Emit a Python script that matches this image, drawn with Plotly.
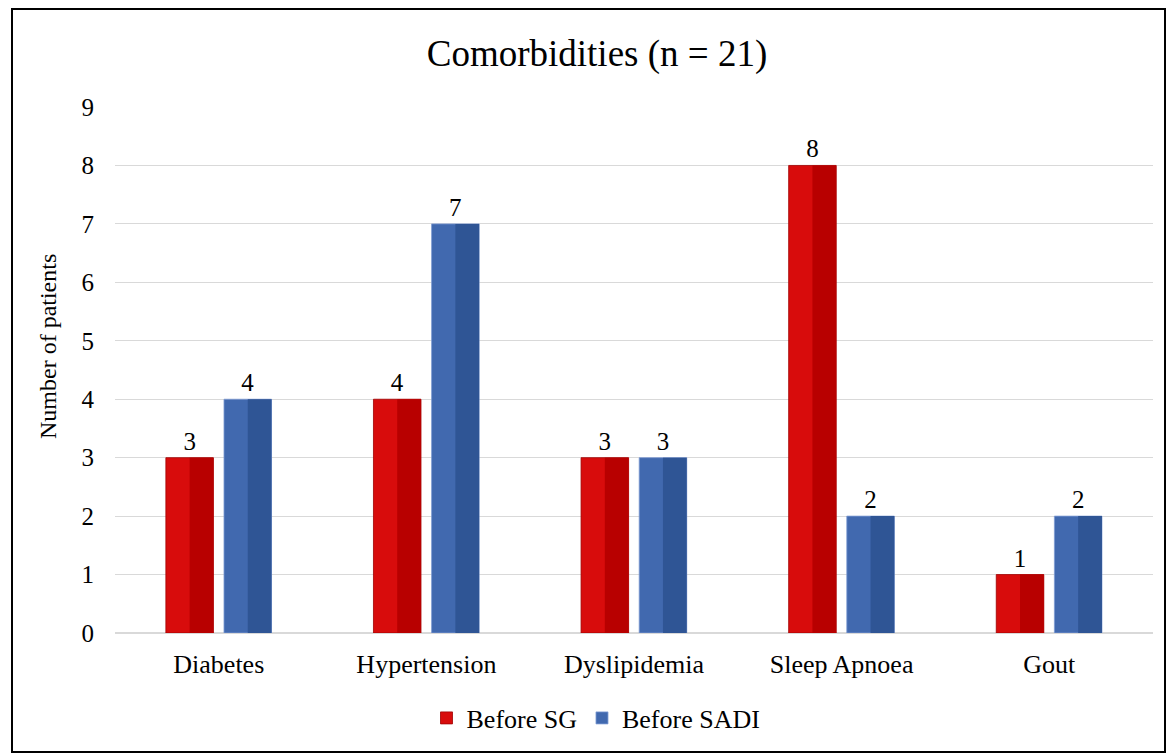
import plotly.graph_objects as go

categories = ["Diabetes", "Hypertension", "Dyslipidemia", "Sleep Apnoea", "Gout"]
before_sg = [3, 4, 3, 8, 1]
before_sadi = [4, 7, 3, 2, 2]
series_names = ["Before SG", "Before SADI"]
y_ticks = [0, 1, 2, 3, 4, 5, 6, 7, 8, 9]

FONT = "Times New Roman, Liberation Serif, DejaVu Serif, serif"

W, H = 1167, 755
L, R, T, B = 115, 14, 107, 122
pw = W - L - R
ph = H - T - B

def px_x(px):
    return (px - L) / pw

def px_y(py):
    return (H - B - py) / ph

fig = go.Figure()

bw = 0.229
red_off, blue_off = -0.255, 0.025
red_main, red_dark = "#D80C0C", "#B80000"
blue_main, blue_dark = "#4169AF", "#2F5595"

fig.add_trace(go.Bar(
    x=categories, y=before_sg, name=series_names[0],
    offset=red_off, width=bw,
    marker=dict(color=red_main, line=dict(color="#A00000", width=0.8)),
    text=[str(v) for v in before_sg], textposition="outside",
    textfont=dict(family=FONT, size=25, color="#000000"),
    cliponaxis=False,
))
fig.add_trace(go.Bar(
    x=categories, y=before_sg, name=series_names[0] + " shade",
    offset=red_off + bw / 2, width=bw / 2,
    marker=dict(color=red_dark, line=dict(width=0)),
    showlegend=False, hoverinfo="skip",
))
fig.add_trace(go.Bar(
    x=categories, y=before_sadi, name=series_names[1],
    offset=blue_off, width=bw,
    marker=dict(color=blue_main, line=dict(color="#7D9BD3", width=0.8)),
    text=[str(v) for v in before_sadi], textposition="outside",
    textfont=dict(family=FONT, size=25, color="#000000"),
    cliponaxis=False,
))
fig.add_trace(go.Bar(
    x=categories, y=before_sadi, name=series_names[1] + " shade",
    offset=blue_off + bw / 2, width=bw / 2,
    marker=dict(color=blue_dark, line=dict(width=0)),
    showlegend=False, hoverinfo="skip",
))

fig.update_layout(
    width=W, height=H,
    margin=dict(l=L, r=R, t=T, b=B),
    barmode="overlay",
    paper_bgcolor="white", plot_bgcolor="white",
    font=dict(family=FONT, size=26, color="#000000"),
    title=dict(text="Comorbidities (n = 21)", x=597 / W, xref="container", xanchor="center",
               y=1 - 53 / H, yref="container", yanchor="middle",
               font=dict(family=FONT, size=37, color="#000000")),
    legend=dict(orientation="h", x=px_x(596), xanchor="center", y=px_y(718), yanchor="middle",
                font=dict(family=FONT, size=26, color="#000000"),
                itemwidth=30, traceorder="normal"),
    showlegend=True,
    xaxis=dict(
        type="category", showgrid=False, showline=False, zeroline=False,
        ticks="", tickfont=dict(family=FONT, size=26), ticklabelstandoff=13,
        range=[-0.5, len(categories) - 0.5],
    ),
    yaxis=dict(
        range=[0, 9], tickvals=y_ticks, showgrid=True, gridcolor="#D9D9D9", gridwidth=1.3,
        zeroline=True, zerolinecolor="#D9D9D9", zerolinewidth=1.5,
        showline=False, ticks="", tickfont=dict(family=FONT, size=25),
        ticklabelstandoff=20,
    ),
    annotations=[dict(
        text="Number of patients", textangle=-90, xref="paper", yref="paper",
        x=px_x(48), y=px_y(347), xanchor="center", yanchor="middle", showarrow=False,
        font=dict(family=FONT, size=24, color="#000000"),
    )],
    shapes=[dict(
        type="rect", xref="paper", yref="paper",
        x0=px_x(12), x1=px_x(1165), y0=px_y(752), y1=px_y(9),
        line=dict(color="#000000", width=2), fillcolor="rgba(0,0,0,0)", layer="above",
    )],
)

fig.write_html("out.html")
